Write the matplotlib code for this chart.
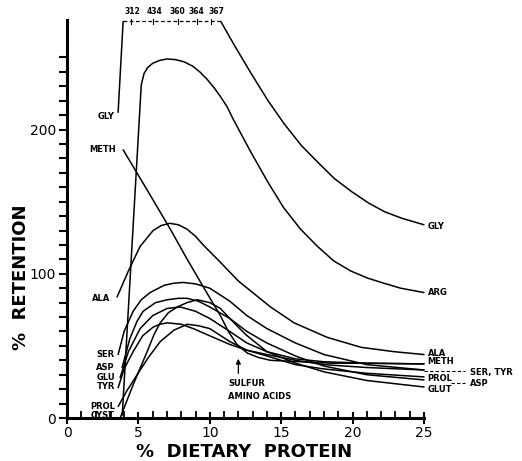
import numpy as np
import matplotlib
matplotlib.use("Agg")
import matplotlib.pyplot as plt
from matplotlib.ticker import MultipleLocator, FixedLocator

# --- data (x = % dietary protein, y = % retention) ---
gly_x = [3.58, 3.93, 4.49, 6.04, 7.79, 9.12, 10.1, 10.77, 11.69, 12.89, 14.08, 15.21,
         16.41, 17.6, 18.73, 19.93, 21.13, 22.25, 23.45, 25.0]
gly_y = [212, 275, 312, 434, 360, 364, 367, 275, 259, 239, 220, 204,
         189, 177, 166, 157, 149, 143, 138.5, 134]
gly_lab_dx = [0.1, 0.1, -0.05, -0.05, 0.4]   # where the printed values sit

arg_x = [3.87, 5.2, 5.4, 5.65, 6.0, 6.5, 7.0, 7.6, 8.2, 8.8, 9.3, 9.8, 10.3, 10.74,
         11.2, 11.65, 12.84, 14.04, 15.16, 16.35, 17.54, 18.67, 19.86, 21.05, 22.18,
         23.37, 25.0]
arg_y = [2, 231, 239, 243, 246, 248, 249, 248.5, 247, 244, 240, 235, 229, 223,
         216, 207, 185, 164, 146, 131, 119, 109, 102, 97, 93.5, 90, 87]

ala_x = [3.51, 4.3, 5.12, 6.03, 6.6, 7.2, 7.8, 8.4, 9.0, 9.54, 10.74, 12.0, 13.5, 14.25,
         15.9, 18.2, 20.6, 22.9, 25.0]
ala_y = [84, 102, 119, 130, 133.5, 135, 134, 131, 126, 120, 108, 95, 83, 77,
         66, 56, 49, 46, 44]

meth_x = [3.93, 5.5, 7.23, 8.42, 9.54, 10.74, 11.3, 11.9, 12.63, 13.4, 14.25, 16.35,
          18.5, 21.0, 25.0]
meth_y = [186, 160, 131, 110, 91, 71, 60, 51, 45, 42, 40, 39, 38, 38, 37.5]

ser_x = [3.58, 4.0, 4.63, 5.2, 5.82, 6.8, 7.5, 8.14, 9.0, 10.0, 11.4, 12.6, 14.0, 16.0,
         18.0, 21.0, 25.0]
ser_y = [44, 60, 74, 82, 87, 92, 93.5, 94, 93, 90, 81, 71, 62, 52, 44, 37, 33.3]

asp_x = [3.86, 4.4, 4.9, 5.33, 6.2, 7.02, 7.8, 8.42, 9.2, 10.0, 11.4, 12.6, 14.0, 16.0,
         18.0, 21.0, 25.0]
asp_y = [35, 55, 67, 74, 80, 82, 83, 83, 81, 77, 69, 60, 52, 43, 36, 30, 26.4]

glu_x = [3.72, 4.3, 5.12, 6.0, 7.02, 7.93, 9.0, 10.0, 11.4, 12.6, 14.0, 16.0, 18.0,
         21.0, 25.0]
glu_y = [28, 46, 62, 71, 76, 77, 74, 69, 60, 52, 46, 38, 32, 26, 21.5]

tyr_x = [3.58, 4.0, 4.63, 5.3, 6.03, 6.5, 7.02, 8.0, 8.84, 10.0, 11.4, 12.6, 14.0, 16.0,
         18.0, 21.0, 25.0]
tyr_y = [21, 34, 46, 57, 63, 65, 66, 65, 62, 57, 51, 47, 44, 40, 37, 35, 33.3]

prol_x = [3.58, 4.2, 4.91, 5.7, 6.53, 7.5, 8.42, 9.2, 10.0, 11.4, 12.6, 14.0, 16.0,
          18.0, 21.0, 25.0]
prol_y = [8, 19, 30, 42, 53, 61, 65, 64, 62, 53, 47, 43, 37, 34, 31, 28.5]

cyst_x = [3.72, 4.63, 5.61, 6.1, 6.53, 7.1, 7.72, 8.4, 9.12, 10.0, 10.74, 11.5, 12.5,
          14.0, 16.0, 18.0, 21.0, 25.0]
cyst_y = [0, 23, 46, 58, 66, 73, 77, 80, 82, 80, 76, 68, 58, 46, 41, 39, 38, 37.5]

cap = 275  # off-scale GLY values drawn dashed along this level

left_labels = [("GLY", 3.35, 209), ("METH", 3.45, 186), ("ALA", 3.05, 83),
               ("SER", 3.35, 44), ("ASP", 3.35, 35), ("GLU", 3.35, 28),
               ("TYR", 3.35, 21.5), ("PROL", 3.35, 8), ("CYST", 3.35, 1.5)]
right_labels = [("GLY", 133), ("ARG", 87), ("ALA", 44.5), ("METH", 39),
                ("PROL", 27.5), ("GLUT", 20)]

fig = plt.figure(figsize=(5.22, 4.61), dpi=100)
ax = fig.add_axes([67 / 522, 43 / 461, 357 / 522, 398 / 461])

lw = 1.1
line_kw = dict(color="black", lw=lw, clip_on=False, solid_joinstyle="round",
               solid_capstyle="round")
for xs, ys in [(arg_x, arg_y), (ala_x, ala_y), (meth_x, meth_y), (ser_x, ser_y),
               (asp_x, asp_y), (glu_x, glu_y), (tyr_x, tyr_y), (prol_x, prol_y),
               (cyst_x, cyst_y)]:
    ax.plot(xs, ys, **line_kw)

# GLY: solid, then dashed where it goes off scale, then solid again
ax.plot(gly_x[:2], gly_y[:2], **line_kw)
ax.plot(gly_x[1:8], np.minimum(gly_y[1:8], cap), color="black", lw=0.9,
        ls=(0, (3, 2)), clip_on=False)
ax.plot(gly_x[7:], gly_y[7:], **line_kw)
for gx, gv, dx in zip(gly_x[2:7], gly_y[2:7], gly_lab_dx):
    ax.plot([gx, gx], [cap - 2, cap + 2], color="black", lw=0.8, clip_on=False)
    ax.text(gx + dx, cap + 3.5, str(gv), ha="center", va="bottom", fontsize=5.5,
            fontweight="bold")

lab = dict(fontsize=6, fontweight="bold", va="center")
for name, lx, ly in left_labels:
    ax.text(lx, ly, name, ha="right", clip_on=False, **lab)
for name, ly in right_labels:
    ax.text(25.25, ly, name, ha="left", clip_on=False, **lab)

# leaders to the far right names
ax.plot([25, 27.9], [32.5, 32.5], color="black", lw=0.8, ls=(0, (3, 2)), clip_on=False)
ax.plot([26.9, 27.9], [24, 24], color="black", lw=0.8, ls=(0, (3, 2)), clip_on=False)
ax.text(28.2, 31.5, "SER, TYR", ha="left", clip_on=False, **lab)
ax.text(28.2, 24, "ASP", ha="left", clip_on=False, **lab)

ax.annotate("", xy=(12.0, 43), xytext=(12.0, 29),
            arrowprops=dict(arrowstyle="-|>", color="black", lw=0.9,
                            mutation_scale=7))
ax.text(11.3, 19.5, "SULFUR\nAMINO ACIDS", ha="left", va="center", fontsize=6,
        fontweight="bold", linespacing=1.5)

ax.set_xlim(0, 25)
ax.set_ylim(0, 276)
for s in ["top", "right"]:
    ax.spines[s].set_visible(False)
for s in ["left", "bottom"]:
    ax.spines[s].set_linewidth(2.2)

ax.xaxis.set_major_locator(MultipleLocator(5))
ax.xaxis.set_minor_locator(MultipleLocator(1))
ax.set_yticks([0, 100, 200])
ax.yaxis.set_minor_locator(FixedLocator(np.arange(10, 251, 10)))
ax.tick_params(axis="x", which="major", direction="inout", length=9, width=1.5,
               labelsize=10, pad=1)
ax.tick_params(axis="x", which="minor", direction="in", length=5, width=1.3)
ax.tick_params(axis="y", which="both", direction="out", length=6, width=1.5,
               labelsize=10, pad=2)

fig.text(244 / 522, 1 - 452 / 461, "%  DIETARY  PROTEIN", ha="center", va="center",
         fontsize=13, fontweight="bold")
fig.text(21 / 522, 1 - 277 / 461, "%  RETENTION", ha="center", va="center",
         rotation=90, fontsize=13, fontweight="bold")

fig.savefig("out.png", dpi=100)
